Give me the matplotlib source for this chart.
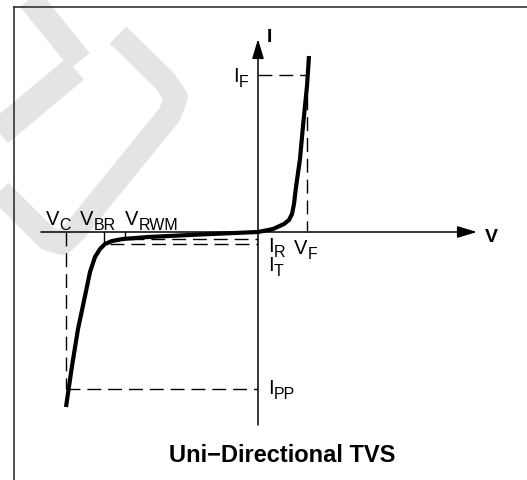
import matplotlib.pyplot as plt
import numpy as np

plt.rcParams['font.family'] = 'Liberation Sans'

# Schematic I-V curve of a uni-directional TVS (arbitrary units, origin at axes crossing)
# ----------------------------------------------------------------------------

v_fwd = np.array([0, 15, 26, 31, 34, 36, 38, 42, 45, 49, 51])
i_fwd = np.array([0, 3, 8, 12, 18, 28, 45, 73, 106, 146, 176])

v_rev = np.array([-192, -186, -180, -173, -168, -163, -158, -153, -146, -135, -110, -58, 0])
i_rev = np.array([-175, -134, -97, -64, -40, -25, -17, -12, -9, -7, -5, -2.5, 0])

# characteristic points
vf, i_f = 49, 157
vc, ipp = -192, -157
vbr, vrwm = -154, -133
ir, it = -6.5, -12

# axes extent
v_min, v_max = -217, 219
i_min, i_max = -193, 193

# watermark bands (light grey, behind everything)
wm_a = ([-236, -178], [243, 171])
wm_b = ([-268, -183], [92, 163])
wm_c = ([-140, -93, -82, -88, -183, -196, -210, -258],
        [197, 151, 135, 118, 1, -11, -7, 41])

# Plot
# ----------------------------------------------------------------------------

fig = plt.figure(figsize=(5.27, 4.81), dpi=100)
ax = fig.add_axes([0, 0, 1, 1])
ax.set_xlim(-258, 269)
ax.set_ylim(-248, 233)
ax.axis('off')

wm = dict(color='#e4e4e4', solid_capstyle='butt', solid_joinstyle='round', zorder=0)
ax.plot(*wm_a, lw=18, **wm)
ax.plot(*wm_b, lw=20, **wm)
ax.plot(*wm_c, lw=17, **wm)

# frame
ax.plot([-244, -244], [225, -260], color='#222222', lw=1.1)
ax.plot([-244, 280], [225, 225], color='#222222', lw=1.1)

# axes with arrows
arrow = dict(arrowstyle='-|>,head_length=1.2,head_width=0.36', mutation_scale=10,
             lw=1.1, color='k', shrinkA=0, shrinkB=0)
ax.annotate('', xy=(v_max, 0), xytext=(v_min, 0), arrowprops=arrow)
ax.annotate('', xy=(0, i_max), xytext=(0, i_min), arrowprops=arrow)

# dashed guide lines
dash = dict(color='k', lw=1.0, ls=(0, (10, 5)))
ax.plot([0, vf], [i_f, i_f], **dash)
ax.plot([vf, vf], [i_f, 0], **dash)
ax.plot([vc, vc], [0, ipp], **dash)
ax.plot([vc, 0], [ipp, ipp], **dash)
ax.plot([-128, 0], [ir, ir], **dash)
ax.plot([-148, 0], [it, it], **dash)

# short solid ticks
ax.plot([vbr, vbr], [0, -9], color='k', lw=1.0)
ax.plot([vrwm, vrwm], [0, -5], color='k', lw=1.0)

# curve
ax.plot(v_fwd, i_fwd, color='k', lw=3, solid_capstyle='butt', zorder=5)
ax.plot(v_rev, i_rev, color='k', lw=3, solid_capstyle='butt', zorder=5)


# labels
def sublabel(x, y, main, sub):
    t = ax.text(x, y, main, fontsize=14.5, va='baseline')
    ax.annotate(sub, xy=(1, 0), xycoords=t, xytext=(0, -4),
                textcoords='offset pixels', fontsize=11.5, va='bottom')


ax.text(9, 191, 'I', fontsize=14, fontweight='bold', va='baseline')
ax.text(227, -9, 'V', fontsize=14, fontweight='bold', va='baseline')
sublabel(-25, 151, 'I', 'F')
sublabel(-212, 8, 'V', 'C')
sublabel(-178, 8, 'V', 'BR')
sublabel(-133, 8, 'V', 'RWM')
sublabel(10, -19, 'I', 'R')
sublabel(10, -38, 'I', 'T')
sublabel(36, -21, 'V', 'F')
sublabel(10, -161, 'I', 'PP')

ax.text(24, -229, 'Uni\u2212Directional TVS', fontsize=17, fontweight='bold',
        ha='center', va='baseline')

fig.savefig('out.png', dpi=100)
